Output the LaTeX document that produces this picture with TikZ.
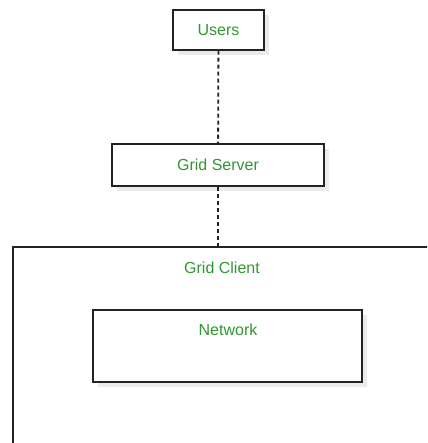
\documentclass[tikz,border=0pt]{standalone}
\usepackage{fontspec}
\setmainfont{Liberation Sans}
\usetikzlibrary{positioning}

\definecolor{labelgreen}{RGB}{50,150,50}
\definecolor{boxline}{RGB}{35,35,35}

\tikzset{
    box/.style={draw=boxline, line width=1.5pt, fill=white, rectangle, inner sep=0pt},
    shadowed/.style={preaction={fill=black!8, transform canvas={xshift=5pt, yshift=-5pt}}},
    caption/.style={text=labelgreen, font=\fontsize{16}{18}\selectfont},
    link/.style={draw=boxline, line width=1.8pt, dash pattern=on 4pt off 3pt}
}

\begin{document}
\begin{tikzpicture}[x=1pt, y=1pt]
    \useasboundingbox (0, 0) rectangle (427, -443);
    \clip (0, 0) rectangle (427, -443);

    \node[box, shadowed, minimum width=91pt, minimum height=40pt] (users) at (218.5, -30) {};
    \node[caption] () at (users) {Users};

    \node[box, shadowed, minimum width=212pt, minimum height=42pt] (server) at (218, -165) {};
    \node[caption] () at (server) {Grid Server};

    \node[box, minimum width=427pt, minimum height=213pt] (client) at (226.5, -353.5) {};
    \node[caption] (clientlabel) at (222, -268) {Grid Client};

    \node[box, shadowed, minimum width=269pt, minimum height=72pt] (network) at (227.5, -346) {};
    \node[caption] (netlabel) at (228, -330) {Network};

    \draw[link] (users) -- (server);
    \draw[link] (server) -- (server.south |- client.north);
\end{tikzpicture}
\end{document}
